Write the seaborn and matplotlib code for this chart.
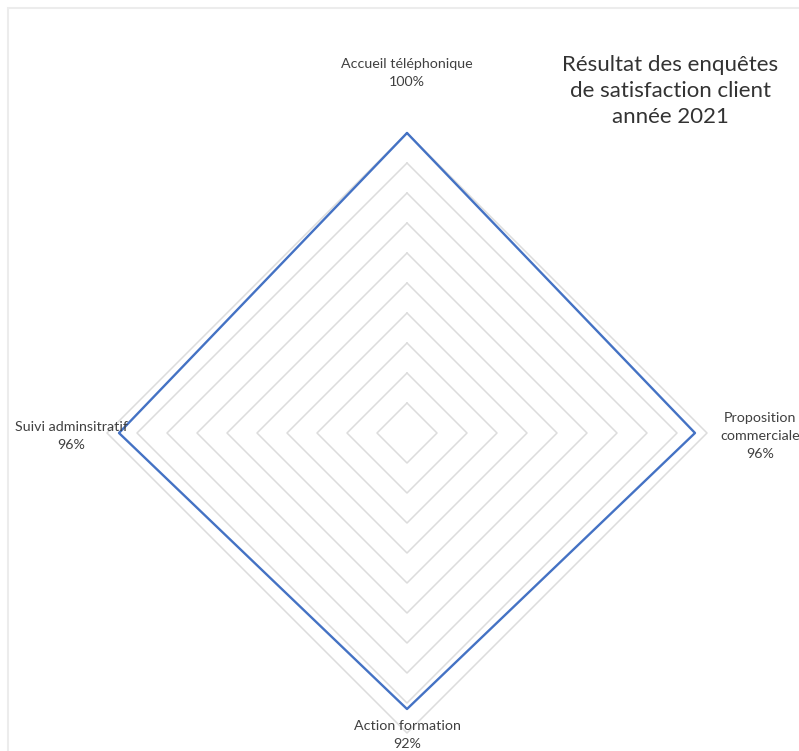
"""
Radar chart: résultat des enquêtes de satisfaction client 2021
"""

import numpy as np
import pandas as pd
import seaborn as sns
import matplotlib.pyplot as plt

# data
categories = ["Accueil téléphonique", "Proposition\ncommerciale", "Action formation", "Suivi adminsitratif"]
scores = [1.00, 0.96, 0.92, 0.96]
score_labels = ["100%", "96%", "92%", "96%"]
grid_levels = [0.1, 0.2, 0.3, 0.4, 0.5, 0.6, 0.7, 0.8, 0.9, 1.0]

sns.set_theme(style="white")
plt.rcParams["font.family"] = ["Lato", "DejaVu Sans"]

W, H = 799, 751
fig = plt.figure(figsize=(W / 100, H / 100), dpi=100)
fig.patch.set_facecolor("white")

# polar axes, centre at (407, 433) px, radius 300 px for 100%
cx, cy, R = 407, 433, 300
ax = fig.add_axes([(cx - R) / W, (H - cy - R) / H, 2 * R / W, 2 * R / H], projection="polar")
ax.set_theta_zero_location("N")
ax.set_theta_direction(-1)
ax.set_ylim(0, 1.0)
ax.set_xticks([])
ax.set_yticks([])
ax.grid(False)
ax.spines["polar"].set_visible(False)
ax.set_facecolor("none")

angles = np.arange(len(categories)) * 2 * np.pi / len(categories)
closed_angles = np.append(angles, 2 * np.pi)

# diamond grid rings
for lvl in grid_levels:
    ax.plot(closed_angles, [lvl] * len(closed_angles), color="#dcdcdc", lw=1.1, clip_on=False, zorder=1)

# series
df = pd.DataFrame({"angle": closed_angles, "score": scores + [scores[0]]})
sns.lineplot(data=df, x="angle", y="score", sort=False, estimator=None,
             color="#4472c4", lw=1.7, ax=ax, zorder=3)
for line in ax.lines:
    line.set_clip_on(False)
ax.set_xlabel("")
ax.set_ylabel("")

# category labels (pixel positions)
label_pos = [(407, 73), (760, 436), (407, 735), (71, 436)]
for (px, py), cat, lab in zip(label_pos, categories, score_labels):
    fig.text(px / W, 1 - py / H, f"{cat}\n{lab}", ha="center", va="center",
             fontsize=10.3, color="#404040", linespacing=1.6)

# title
fig.text(670 / W, 1 - 91 / H, "Résultat des enquêtes\nde satisfaction client\nannée 2021",
         ha="center", va="center", fontsize=16, color="#333333", linespacing=1.4)

# faint chart frame
fig.add_artist(plt.Rectangle((8 / W, -0.01), 1.1, 1 - 8 / H + 0.01, transform=fig.transFigure,
                             fill=False, ec="#ececec", lw=1.5))

plt.savefig("out.png", dpi=100, facecolor="white")
